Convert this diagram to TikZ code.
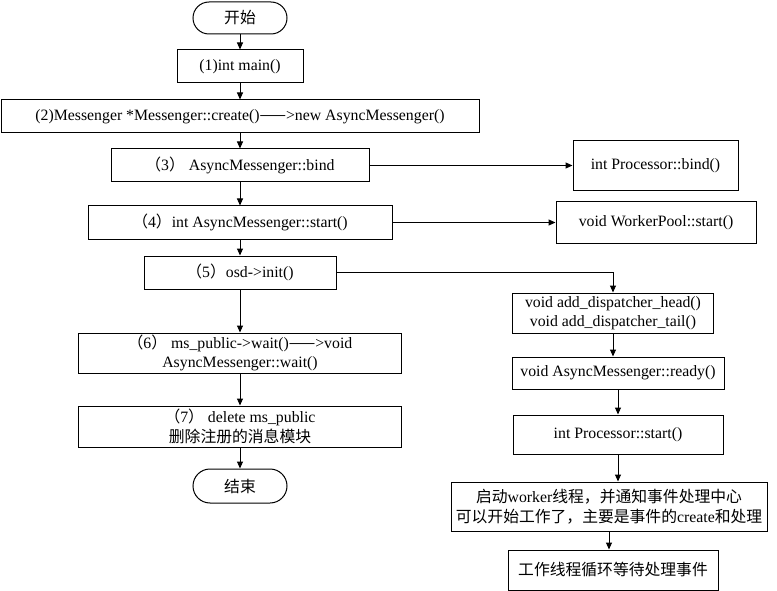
\documentclass[tikz,border=0pt]{standalone}
\usepackage{fontspec}
\setmainfont{Liberation Serif}
\newfontfamily\cjk{Noto Sans CJK SC}
\usepackage{tikz}
\usetikzlibrary{arrows.meta,positioning}
\tikzset{>={Triangle[length=7pt,width=6pt]}}
\tikzset{box/.style={draw,line width=1pt,inner sep=1pt,align=center,font=\fontsize{15.8}{19.5}\selectfont},
term/.style={box,rounded corners=16pt}}

\begin{document}
\begin{tikzpicture} [x=1pt,y=-1pt,line width=1pt]
\useasboundingbox (0,0) rectangle (777,591);
\node [term,minimum width=94pt,minimum height=32pt] (start) at (240,18) {\cjk 开始};
\node [box,minimum width=126pt,minimum height=33pt] (main) at (240,66.5) {(1)int main()};
\node [box,minimum width=478pt,minimum height=33pt] (create) at (240,116.5) {(2)Messenger *Messenger::create(){\cjk ——}>new AsyncMessenger()};
\node [box,minimum width=258pt,minimum height=33pt] (bindA) at (240,165.5) {{\cjk （}3{\cjk ）} AsyncMessenger::bind};
\node [box,minimum width=165pt,minimum height=50pt] (pbind) at (655.5,165.5) {int Processor::bind()};
\node [box,minimum width=304pt,minimum height=33pt] (startA) at (240,222.5) {{\cjk （}4{\cjk ）}int AsyncMessenger::start()};
\node [box,minimum width=200pt,minimum height=42pt] (wpool) at (656,222.5) {void WorkerPool::start()};
\node [box,minimum width=192pt,minimum height=33pt] (init) at (240,272.5) {{\cjk （}5{\cjk ）}osd->init()};
\node [box,minimum width=201pt,minimum height=40pt] (disp) at (613,313) {void add\_dispatcher\_head()\\void add\_dispatcher\_tail()};
\node [box,minimum width=212pt,minimum height=32pt] (ready) at (618,373) {void AsyncMessenger::ready()};
\node [box,minimum width=210pt,minimum height=39pt] (pstart) at (618,434.5) {int Processor::start()};
\node [box,minimum width=316pt,minimum height=49pt] (notify) at (609,506.5) {{\cjk 启动}worker{\cjk 线程，并通知事件处理中心}\\{\cjk 可以开始工作了，主要是事件的}create{\cjk 和处理}};
\node [box,minimum width=210pt,minimum height=40pt] (loop) at (613,570) {\cjk 工作线程循环等待处理事件};
\node [box,minimum width=323pt,minimum height=40pt] (wait) at (240,353) {{\cjk （}6{\cjk ）} ms\_public->wait(){\cjk ——}>void\\AsyncMessenger::wait()};
\node [box,minimum width=323pt,minimum height=41pt] (del) at (240,426.5) {{\cjk （}7{\cjk ）} delete ms\_public\\{\cjk 删除注册的消息模块}};
\node [term,minimum width=94pt,minimum height=34pt,rounded corners=17pt] (stop) at (240,486) {\cjk 结束};
\foreach \a/\b in {start/main,main/create,create/bindA,bindA/startA,startA/init,init/wait,wait/del,del/stop}
  \draw [->] (\a) -- (\b);
\foreach \a/\b in {disp/ready,ready/pstart,pstart/notify,notify/loop}
  \draw [->] (\a.south) -- (\a.south |- \b.north);
\draw [->] (bindA) -- (pbind);
\draw [->] (startA) -- (wpool);
\draw [->] (init.east) -| (disp.north);
\end{tikzpicture}
\end{document}
